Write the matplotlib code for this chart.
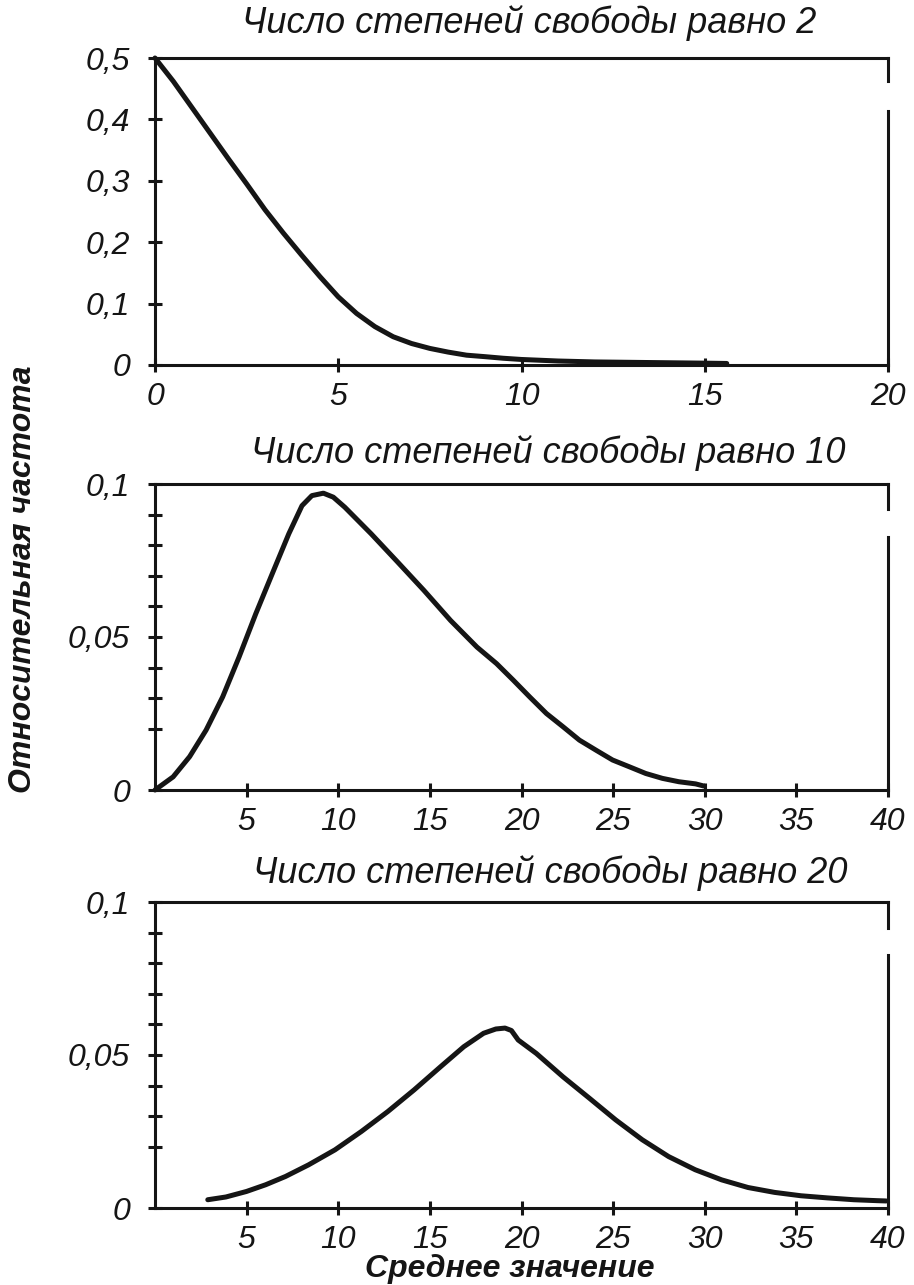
import matplotlib.pyplot as plt

plt.rcParams['font.family'] = ['Liberation Sans', 'DejaVu Sans']

# ---- данные ----
titles = ["Число степеней свободы равно 2",
          "Число степеней свободы равно 10",
          "Число степеней свободы равно 20"]

x_df2 = [0, 0.5, 1, 1.5, 2, 2.5, 3, 3.5, 4, 4.5, 5, 5.5, 6, 6.5, 7, 7.5, 8, 8.5, 9, 9.5, 10, 11, 12, 13.5,
         15, 15.6]
y_df2 = [0.5, 0.462, 0.42, 0.378, 0.336, 0.295, 0.253, 0.215, 0.179, 0.144, 0.111, 0.084, 0.0625, 0.046,
         0.035, 0.027, 0.021, 0.016, 0.0136, 0.011, 0.009, 0.0065, 0.005, 0.004, 0.003, 0.0025]

x_df10 = [0, 0.99, 1.89, 2.79, 3.69, 4.59, 5.5, 6.4, 7.3, 8.02, 8.56, 9.19, 9.73, 10.36, 11.8, 13.24, 14.68,
          16.13, 17.57, 18.64, 19.55, 20.45, 21.36, 22.26, 23.16, 24.07, 24.97, 25.88, 26.78, 27.69, 28.59,
          29.5, 29.95]
y_df10 = [0, 0.0043, 0.0109, 0.0196, 0.0304, 0.0435, 0.0576, 0.0707, 0.0837, 0.0929, 0.0962, 0.097, 0.0957,
          0.0924, 0.0837, 0.0745, 0.0652, 0.0554, 0.0467, 0.0413, 0.0359, 0.0304, 0.025, 0.0207, 0.0163, 0.013,
          0.0098, 0.0076, 0.0054, 0.0038, 0.0027, 0.002, 0.0013]

x_df20 = [2.88, 3.87, 4.99, 6.04, 7.12, 8.38, 9.82, 11.26, 12.7, 14.14, 15.59, 16.85, 17.93, 18.6, 19.1,
          19.45, 19.82, 20.81, 22.26, 23.7, 25.14, 26.59, 28.03, 29.48, 30.92, 32.36, 33.81, 35.25, 36.7,
          38.14, 39.4, 39.9]
y_df20 = [0.0027, 0.0036, 0.0054, 0.0076, 0.0103, 0.0141, 0.019, 0.025, 0.0315, 0.0386, 0.0462, 0.0527,
          0.0571, 0.0585, 0.0588, 0.058, 0.0549, 0.0505, 0.0429, 0.0359, 0.0288, 0.0223, 0.0168, 0.0125,
          0.0092, 0.0067, 0.0051, 0.004, 0.0033, 0.0027, 0.0024, 0.0023]

series_x = [x_df2, x_df10, x_df20]
series_y = [y_df2, y_df10, y_df20]

xlims = [20, 40, 40]
ylims = [0.5, 0.1, 0.1]
xticks = [[0, 5, 10, 15, 20], [5, 10, 15, 20, 25, 30, 35, 40], [5, 10, 15, 20, 25, 30, 35, 40]]
xticklabels = [["0", "5", "10", "15", "20"],
               ["5", "10", "15", "20", "25", "30", "35", "40"],
               ["5", "10", "15", "20", "25", "30", "35", "40"]]
yticks = [[0, 0.1, 0.2, 0.3, 0.4, 0.5], [0, 0.05, 0.1], [0, 0.05, 0.1]]
yticklabels = [["0", "0,1", "0,2", "0,3", "0,4", "0,5"], ["0", "0,05", "0,1"], ["0", "0,05", "0,1"]]
yminor = [[], [0.02, 0.03, 0.04, 0.06, 0.07, 0.08, 0.09], [0.02, 0.03, 0.04, 0.06, 0.07, 0.08, 0.09]]

W, H = 914, 1285
fig = plt.figure(figsize=(W / 100, H / 100), dpi=100)

# положение осей (в пикселях исходной картинки): left, top, right, bottom
boxes = [(155, 58, 888, 365), (155, 484, 888, 790), (155, 902, 888, 1208)]
title_x = [0.51, 0.537, 0.539]
title_pad = [18, 15, 14]
gaps = [(0.826, 0.924), (0.826, 0.918), (0.826, 0.916)]

ink = "#151515"
for i in range(3):
    l, t, r, b = boxes[i]
    ax = fig.add_axes([l / W, 1 - b / H, (r - l) / W, (b - t) / H])
    ax.plot(series_x[i], series_y[i], color=ink, lw=3.6, solid_capstyle="round",
            solid_joinstyle="round", clip_on=False, zorder=3)
    ax.set_xlim(0, xlims[i])
    ax.set_ylim(0, ylims[i])
    ax.set_xticks(xticks[i])
    ax.set_xticklabels(xticklabels[i])
    ax.set_yticks(yticks[i])
    ax.set_yticklabels(yticklabels[i])
    ax.set_yticks(yminor[i], minor=True)
    for s in ["left", "bottom", "top"]:
        ax.spines[s].set_linewidth(2.2)
        ax.spines[s].set_color(ink)
    ax.spines["right"].set_visible(False)
    # правая рамка с разрывом, как в оригинале
    ax.axvline(xlims[i], 0, gaps[i][0], color=ink, lw=2.2, clip_on=False)
    ax.axvline(xlims[i], gaps[i][1], 1, color=ink, lw=2.2, clip_on=False)
    ax.tick_params(which="both", direction="inout", length=10, width=2.2, color=ink,
                   right=False, top=False)
    ax.tick_params(axis="y", pad=13, labelsize=23)
    ax.tick_params(axis="x", pad=7, labelsize=23)
    for lab in ax.get_xticklabels() + ax.get_yticklabels():
        lab.set_fontstyle("italic")
        lab.set_color(ink)
    ax.set_title(titles[i], x=title_x[i], pad=title_pad[i], fontsize=26, fontstyle="italic", color=ink)

fig.text(0.025, 0.549, "Относительная частота", rotation=90, ha="center", va="center",
         fontsize=23, fontstyle="italic", fontweight="bold", color=ink)
fig.text(0.558, 0.0125, "Среднее значение", ha="center", va="center",
         fontsize=23, fontstyle="italic", fontweight="bold", color=ink)

fig.savefig("out.png", dpi=100)
